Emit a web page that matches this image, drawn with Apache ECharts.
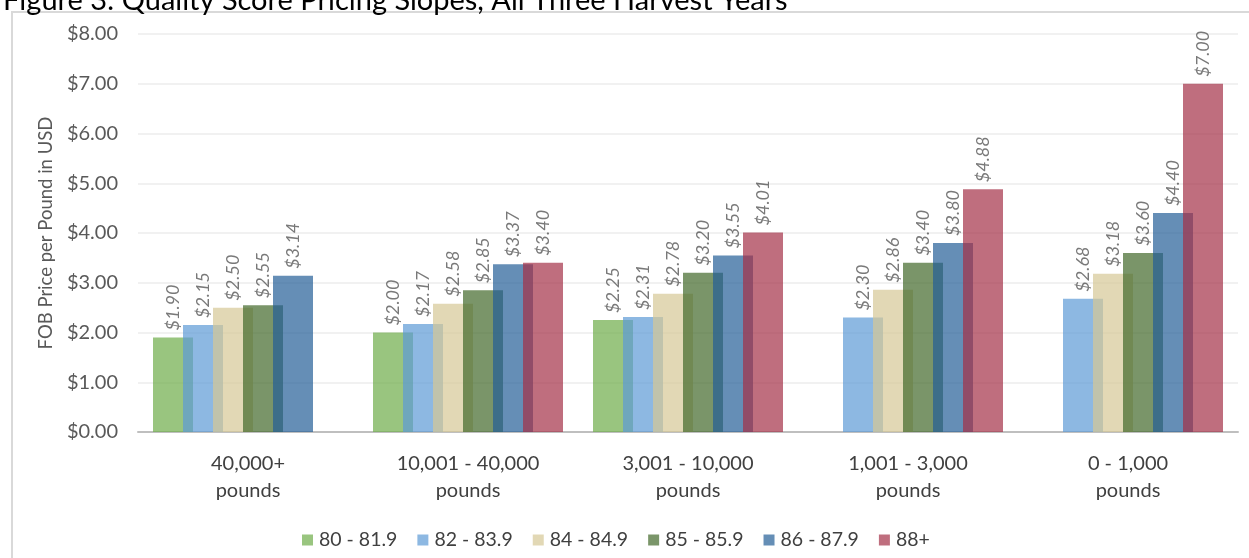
<!DOCTYPE html>
<html>
<head>
<meta charset="utf-8">
<script src="https://cdn.jsdelivr.net/npm/echarts@6/dist/echarts.min.js"></script>
<style>
html,body{margin:0;padding:0;background:#fff;}
#chart{width:1249px;height:558px;}
</style>
</head>
<body>
<div id="chart"></div>
<script>
const categories = ['40,000+\npounds', '10,001 - 40,000\npounds', '3,001 - 10,000\npounds', '1,001 - 3,000\npounds', '0 - 1,000\npounds'];
const seriesNames = ['80 - 81.9', '82 - 83.9', '84 - 84.9', '85 - 85.9', '86 - 87.9', '88+'];
const s80 = [1.90, 2.00, 2.25, null, null];
const s82 = [2.15, 2.17, 2.31, 2.30, 2.68];
const s84 = [2.50, 2.58, 2.78, 2.86, 3.18];
const s85 = [2.55, 2.85, 3.20, 3.40, 3.60];
const s86 = [3.14, 3.37, 3.55, 3.80, 4.40];
const s88 = [null, 3.40, 4.01, 4.88, 7.00];
const yTicks = { min: 0, max: 8, interval: 1 };
const titleText = 'Figure 3: Quality Score Pricing Slopes, All Three Harvest Years';
const yAxisName = 'FOB Price per Pound in USD';

const colors = ['#6EAC48', '#5C9AD6', '#D5C895', '#41682A', '#245E97', '#A43147'];
const allData = [s80, s82, s84, s85, s86, s88];
const font = 'Lato, "Open Sans", sans-serif';

const chart = echarts.init(document.getElementById('chart'));
chart.setOption({
  animation: false,
  backgroundColor: '#fff',
  color: colors,
  title: {
    text: titleText, left: -2, top: -19,
    textStyle: { fontFamily: font, fontSize: 29, fontWeight: 'normal', color: '#000' }
  },
  graphic: [{
    type: 'polyline', silent: true,
    shape: { points: [[12, 700], [12, 12], [1400, 12]] },
    style: { stroke: '#D9D9D9', lineWidth: 2, fill: null }
  }],
  grid: { left: 138, right: 11, top: 34, bottom: 126 },
  legend: {
    left: 297, top: 525, itemWidth: 11, itemHeight: 11, itemGap: 20,
    icon: 'rect',
    textStyle: { fontFamily: font, fontSize: 19.5, color: '#404040', padding: [0, 0, 0, 1] },
    data: seriesNames
  },
  xAxis: {
    type: 'category', data: categories,
    axisLine: { lineStyle: { color: '#BFBFBF', width: 2 } },
    axisTick: { show: false },
    axisLabel: { fontFamily: font, fontSize: 20, color: '#404040', lineHeight: 27, margin: 18, interval: 0 }
  },
  yAxis: {
    type: 'value', min: yTicks.min, max: yTicks.max, interval: yTicks.interval,
    name: yAxisName, nameLocation: 'middle', nameGap: 70,
    nameTextStyle: { fontFamily: font, fontSize: 18.5, color: '#595959' },
    axisLine: { show: false }, axisTick: { show: false },
    axisLabel: { fontFamily: font, fontSize: 20, color: '#595959', margin: 20,
      formatter: v => '$' + v.toFixed(2) },
    splitLine: { lineStyle: { color: '#EDEDED', width: 1.5 } }
  },
  series: allData.map((d, i) => ({
    name: seriesNames[i], type: 'bar', data: d,
    barWidth: 40, barGap: '-25%',
    itemStyle: { color: colors[i], opacity: 0.7 },
    label: {
      show: true, position: 'top', rotate: 90, distance: 7,
      align: 'left', verticalAlign: 'middle',
      fontFamily: font, fontSize: 18, fontStyle: 'italic', color: '#404040',
      formatter: p => p.value == null ? '' : '$' + Number(p.value).toFixed(2)
    }
  }))
});
</script>
</body>
</html>
